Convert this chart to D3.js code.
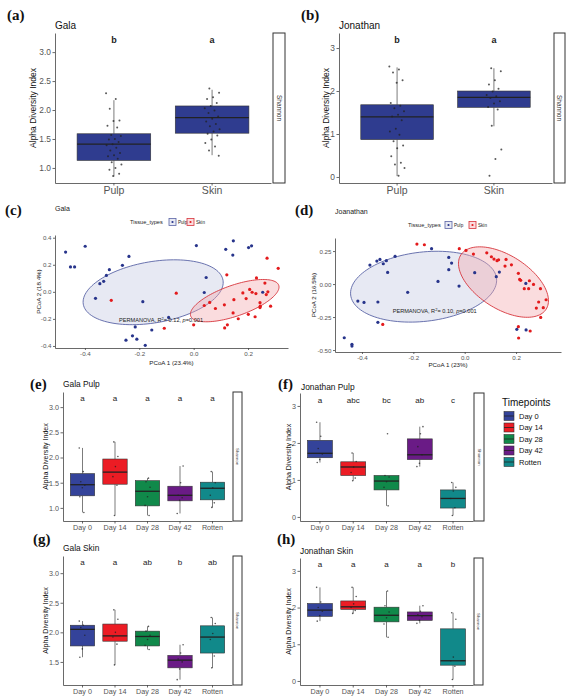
<!DOCTYPE html>
<html>
<head>
<meta charset="utf-8">
<script src="https://cdn.jsdelivr.net/npm/d3@7"></script>
<style>
  body { margin: 0; background: #fff; }
  svg { display: block; }
</style>
</head>
<body>
<svg id="fig" width="586" height="700"></svg>
<script>
// ---------- data ----------
const tissues = ["Pulp", "Skin"];
const timepoints = ["Day 0", "Day 14", "Day 28", "Day 42", "Rotten"];
const tissueColor = "#2f3c8f";
const timeColors = ["#34439a", "#ec1c24", "#10894a", "#6a1b86", "#11898a"];

// box stats: [lower whisker, Q1, median, Q3, upper whisker]
const galaTissueStats = [[0.85, 1.13, 1.41, 1.59, 2.17], [1.22, 1.60, 1.87, 2.07, 2.35]];
const jonTissueStats = [[0.02, 0.87, 1.40, 1.68, 2.55], [1.18, 1.62, 1.85, 2.00, 2.53]];
const galaTissuePts = [
  [2.29, 2.19, 2.02, 1.82, 1.81, 1.73, 1.70, 1.57, 1.55, 1.50, 1.49, 1.45, 1.41, 1.39, 1.35, 1.30, 1.26, 1.22, 1.20, 1.16, 1.10, 1.06, 1.00, 0.97, 0.90, 0.86],
  [2.37, 2.30, 2.22, 2.19, 2.12, 2.07, 2.03, 1.99, 1.95, 1.89, 1.85, 1.80, 1.76, 1.72, 1.67, 1.63, 1.59, 1.56, 1.49, 1.43, 1.37, 1.30, 1.21]
];
const jonTissuePts = [
  [2.57, 2.50, 2.43, 2.25, 2.19, 1.72, 1.66, 1.60, 1.53, 1.45, 1.41, 1.32, 1.12, 1.06, 0.98, 0.83, 0.73, 0.67, 0.48, 0.33, 0.29, 0.21, 0.03],
  [2.53, 2.46, 2.25, 2.15, 2.05, 1.99, 1.91, 1.88, 1.84, 1.76, 1.71, 1.63, 1.57, 1.19, 0.64, 0.42, 0.03]
];
const tissueLetters = ["b", "a"];

const galaPulpStats = [[0.91, 1.24, 1.46, 1.68, 2.19], [0.85, 1.47, 1.71, 1.97, 2.31], [0.85, 1.04, 1.33, 1.54, 1.59], [0.89, 1.14, 1.25, 1.43, 1.83], [1.01, 1.16, 1.39, 1.51, 1.72]];
const jonPulpStats = [[1.47, 1.60, 1.72, 2.07, 2.56], [0.98, 1.12, 1.35, 1.49, 1.73], [0.30, 0.73, 0.97, 1.12, 1.12], [1.36, 1.55, 1.68, 2.11, 2.44], [0.04, 0.24, 0.50, 0.73, 0.93]];
const galaSkinStats = [[1.58, 1.77, 2.05, 2.12, 2.19], [1.45, 1.85, 1.94, 2.14, 2.38], [1.71, 1.77, 1.93, 2.02, 2.10], [1.20, 1.40, 1.53, 1.61, 1.79], [1.40, 1.65, 1.92, 2.11, 2.25]];
const jonSkinStats = [[1.63, 1.76, 1.93, 2.11, 2.55], [1.84, 1.95, 2.02, 2.18, 2.55], [1.19, 1.61, 1.79, 2.01, 2.45], [1.57, 1.65, 1.78, 1.88, 2.05], [0.04, 0.43, 0.55, 1.42, 1.86]];

const galaPulpPts = [[2.19, 1.72, 1.52, 1.45, 1.40, 1.22, 0.91], [2.31, 2.02, 1.82, 1.62, 1.45, 0.85], [1.59, 1.52, 1.41, 1.22, 1.05, 0.85], [1.83, 1.50, 1.25, 1.20, 1.15, 0.89], [1.72, 1.50, 1.40, 1.25, 1.10, 1.01]];
const jonPulpPts = [[2.56, 2.18, 1.85, 1.70, 1.55, 1.47], [1.73, 1.50, 1.35, 1.20, 1.05, 0.98], [2.25, 1.12, 1.08, 0.95, 0.80, 0.30], [2.44, 2.25, 1.90, 1.68, 1.45, 1.36], [0.93, 0.80, 0.70, 0.50, 0.25, 0.04]];
const galaSkinPts = [[2.19, 2.12, 2.08, 1.95, 1.72, 1.58], [2.38, 2.22, 2.00, 1.92, 1.80, 1.45], [2.10, 2.02, 1.95, 1.88, 1.78, 1.71], [1.79, 1.65, 1.55, 1.50, 1.38, 1.20], [2.25, 2.15, 1.98, 1.88, 1.60, 1.40]];
const jonSkinPts = [[2.55, 2.15, 2.00, 1.90, 1.78, 1.63], [2.55, 2.30, 2.10, 2.00, 1.92, 1.84], [2.45, 2.05, 1.88, 1.72, 1.55, 1.19], [2.05, 1.90, 1.80, 1.75, 1.65, 1.57], [1.86, 1.68, 0.65, 0.55, 0.40, 0.04]];

const galaPulpLetters = ["a", "a", "a", "a", "a"];
const jonPulpLetters = ["a", "abc", "bc", "ab", "c"];
const galaSkinLetters = ["a", "a", "ab", "b", "ab"];
const jonSkinLetters = ["a", "a", "a", "a", "b"];

// PCoA scores [PCoA1, PCoA2]
const galaPcoaPulp = [[-0.471, 0.294], [-0.399, 0.337], [-0.453, 0.184], [-0.438, 0.184], [-0.238, 0.262], [-0.262, 0.196], [-0.310, 0.164], [-0.321, 0.121], [-0.331, 0.078], [-0.345, 0.060], [-0.361, -0.048], [-0.187, -0.073], [0.010, 0.342], [0.046, 0.106], [0.118, 0.314], [0.146, 0.377], [0.144, 0.272], [0.202, 0.327], [0.213, 0.340], [0.254, -0.003], [0.039, -0.005], [-0.092, -0.189], [-0.215, -0.259], [-0.154, -0.282], [-0.225, -0.325], [-0.249, -0.357], [-0.209, -0.350], [-0.178, -0.395]];
const galaPcoaSkin = [[-0.303, -0.063], [-0.064, -0.010], [-0.108, -0.269], [0.000, -0.244], [0.122, 0.126], [0.270, 0.249], [0.311, 0.174], [0.231, 0.103], [0.262, 0.065], [0.039, -0.101], [0.059, -0.078], [0.080, -0.123], [0.113, -0.096], [0.148, -0.058], [0.145, -0.156], [0.164, -0.199], [0.114, -0.267], [0.124, -0.244], [0.181, -0.008], [0.193, -0.050], [0.215, -0.003], [0.229, -0.013], [0.201, -0.166], [0.226, -0.184], [0.244, -0.080], [0.245, -0.106], [0.244, -0.116], [0.267, -0.020], [0.273, 0.000], [0.283, -0.106], [0.206, 0.018]];
const jonPcoaPulp = [[-0.469, -0.407], [-0.439, -0.457], [-0.439, -0.470], [-0.416, -0.129], [-0.392, -0.139], [-0.338, -0.136], [-0.369, 0.144], [-0.342, 0.174], [-0.330, 0.187], [-0.317, 0.154], [-0.305, 0.177], [-0.300, 0.088], [-0.271, 0.210], [-0.338, -0.290], [-0.222, -0.063], [-0.129, 0.268], [-0.104, 0.020], [-0.062, 0.202], [-0.051, 0.159], [-0.062, 0.109], [-0.022, -0.015], [0.039, 0.086], [0.123, 0.056], [0.135, 0.091], [0.238, 0.005], [0.203, -0.343], [0.239, -0.348]];
const jonPcoaSkin = [[-0.319, -0.306], [-0.186, 0.303], [-0.157, 0.298], [-0.021, 0.268], [0.005, 0.255], [0.034, 0.227], [0.086, 0.237], [0.104, 0.207], [0.114, 0.189], [0.126, 0.177], [0.132, 0.184], [0.161, 0.187], [0.157, 0.136], [0.182, 0.146], [0.209, 0.081], [0.214, 0.035], [0.218, 0.028], [0.232, -0.035], [0.249, -0.035], [0.252, 0.025], [0.268, -0.003], [0.295, -0.035], [0.317, -0.119], [0.306, -0.179], [0.288, -0.136], [0.279, -0.182], [0.296, -0.253], [0.209, -0.323], [0.210, -0.409], [0.255, -0.356]];
// 95% ellipses: centre and two conjugate semi-axis vectors (data units)
const galaEllipses = [
  { c: [-0.149, -0.003], a: [0.257, 0.088], b: [-0.018, 0.223] },
  { c: [0.151, -0.065], a: [0.162, 0.113], b: [-0.018, 0.108] }
];
const jonEllipses = [
  { c: [-0.160, -0.020], a: [0.284, 0.063], b: [-0.015, 0.261] },
  { c: [0.151, 0.015], a: [0.166, -0.206], b: [0.056, 0.170] }
];

// ---------- drawing ----------
const svg = d3.select("#fig");
const SANS = "'Liberation Sans', Arial, sans-serif";
const SERIF = "'Liberation Serif', 'Times New Roman', serif";

function styleAxis(g, fs) {
  g.select(".domain").attr("stroke", "#444").attr("stroke-width", 0.8);
  g.selectAll(".tick line").attr("stroke", "#444").attr("stroke-width", 0.8);
  g.selectAll(".tick text").attr("fill", "#555").style("font-family", SANS).style("font-size", fs + "px");
}

function jitter(i, amt) {
  return (((i * 0.6180339) % 1) - 0.5) * 2 * amt;
}

function boxPanel(cfg) {
  const g = svg.append("g");
  const x = d3.scaleBand().domain(cfg.cats).range([cfg.x0, cfg.x1]).paddingInner(0).paddingOuter(0.1);
  const y = d3.scaleLinear().domain(cfg.yDomain).range([cfg.y1, cfg.y0]);
  const bw = x.step() * 0.75;
  const cx = i => x(cfg.cats[i]) + x.bandwidth() / 2;
  const col = i => Array.isArray(cfg.colors) ? cfg.colors[i] : cfg.colors;

  // whiskers
  g.selectAll("line.wl").data(cfg.stats).join("line")
    .attr("x1", (d, i) => cx(i)).attr("x2", (d, i) => cx(i))
    .attr("y1", d => y(d[0])).attr("y2", d => y(d[1]))
    .attr("stroke", "#444").attr("stroke-width", 0.7);
  g.selectAll("line.wu").data(cfg.stats).join("line")
    .attr("x1", (d, i) => cx(i)).attr("x2", (d, i) => cx(i))
    .attr("y1", d => y(d[3])).attr("y2", d => y(d[4]))
    .attr("stroke", "#444").attr("stroke-width", 0.7);
  // boxes
  g.selectAll("rect.box").data(cfg.stats).join("rect")
    .attr("x", (d, i) => cx(i) - bw / 2).attr("width", bw)
    .attr("y", d => y(d[3])).attr("height", d => y(d[1]) - y(d[3]))
    .attr("fill", (d, i) => col(i)).attr("stroke", "#333").attr("stroke-width", 0.6);
  // medians
  g.selectAll("line.med").data(cfg.stats).join("line")
    .attr("x1", (d, i) => cx(i) - bw / 2).attr("x2", (d, i) => cx(i) + bw / 2)
    .attr("y1", d => y(d[2])).attr("y2", d => y(d[2]))
    .attr("stroke", "#222").attr("stroke-width", 1.3);
  // jittered points
  cfg.points.forEach((pts, i) => {
    g.selectAll(null).data(pts).join("circle")
      .attr("cx", (d, j) => cx(i) + jitter(j + i * 7, x.step() * cfg.jit))
      .attr("cy", d => y(d))
      .attr("r", cfg.pr).attr("fill", "#222").attr("fill-opacity", 0.75);
  });

  // axes
  const ya = g.append("g").attr("transform", `translate(${cfg.x0},0)`)
    .call(d3.axisLeft(y).tickValues(cfg.ticks).tickFormat(cfg.fmt).tickSize(2.5).tickSizeOuter(0).tickPadding(1.5));
  styleAxis(ya, cfg.tfs);
  const xa = g.append("g").attr("transform", `translate(0,${cfg.y1})`)
    .call(d3.axisBottom(x).tickSize(2.5).tickSizeOuter(0).tickPadding(1.5));
  styleAxis(xa, cfg.xfs);

  // significance letters
  g.selectAll("text.let").data(cfg.letters).join("text")
    .attr("x", (d, i) => cx(i)).attr("y", cfg.letY)
    .attr("text-anchor", "middle").attr("dominant-baseline", "central")
    .style("font-family", SANS).style("font-size", cfg.lfs + "px")
    .style("font-weight", cfg.lbold ? "bold" : "normal")
    .attr("fill", "#222").text(d => d);

  // strip
  g.append("rect").attr("x", cfg.sx0).attr("y", cfg.y0)
    .attr("width", cfg.sx1 - cfg.sx0).attr("height", cfg.y1 - cfg.y0)
    .attr("fill", "#fff").attr("stroke", "#333").attr("stroke-width", 1);
  g.append("text")
    .attr("transform", `translate(${(cfg.sx0 + cfg.sx1) / 2},${(cfg.y0 + cfg.y1) / 2}) rotate(90)`)
    .attr("text-anchor", "middle").attr("dominant-baseline", "central")
    .style("font-family", SANS).style("font-size", cfg.sfs + "px").attr("fill", "#333")
    .text("Shannon");

  // y title
  g.append("text")
    .attr("transform", `translate(${cfg.ytx},${(cfg.y0 + cfg.y1) / 2}) rotate(-90)`)
    .attr("text-anchor", "middle").attr("dominant-baseline", "central")
    .style("font-family", SANS).style("font-size", cfg.ytfs + "px").attr("fill", "#111")
    .text("Alpha Diversity Index");

  // title
  g.append("text").attr("x", cfg.tx).attr("y", cfg.ty).attr("dominant-baseline", "central")
    .style("font-family", SANS).style("font-size", cfg.tfsTitle + "px").attr("fill", "#111")
    .text(cfg.title);
}

function panelLabel(t, xx, yy) {
  svg.append("text").attr("x", xx).attr("y", yy).attr("dominant-baseline", "central")
    .style("font-family", SERIF).style("font-size", "15px").style("font-weight", "bold")
    .attr("fill", "#111").text(t);
}

function pcoaPanel(cfg) {
  const g = svg.append("g");
  const x = d3.scaleLinear().domain(cfg.xDomain).range([cfg.x0, cfg.x1]);
  const y = d3.scaleLinear().domain(cfg.yDomain).range([cfg.y1, cfg.y0]);
  const line = d3.line().x(d => x(d[0])).y(d => y(d[1])).curve(d3.curveLinearClosed);
  const tt = d3.range(0, 2 * Math.PI, Math.PI / 60);
  const fills = ["#c3c8e2", "#f3a7ac"];
  const strokes = ["#5a64a6", "#d7343b"];
  cfg.ellipses.forEach((e, k) => {
    const pts = tt.map(t => [
      e.c[0] + Math.cos(t) * e.a[0] + Math.sin(t) * e.b[0],
      e.c[1] + Math.cos(t) * e.a[1] + Math.sin(t) * e.b[1]
    ]);
    g.append("path").attr("d", line(pts))
      .attr("fill", fills[k]).attr("fill-opacity", 0.4)
      .attr("stroke", strokes[k]).attr("stroke-width", 0.9);
  });
  const ptCols = ["#27348b", "#e31a1c"];
  [cfg.pulp, cfg.skin].forEach((set, k) => {
    g.selectAll(null).data(set).join("circle")
      .attr("cx", d => x(d[0])).attr("cy", d => y(d[1]))
      .attr("r", 1.6).attr("fill", ptCols[k]);
  });

  const xa = g.append("g").attr("transform", `translate(0,${cfg.y1})`)
    .call(d3.axisBottom(x).tickValues(cfg.xTicks).tickFormat(d => d.toFixed(1)).tickSize(2).tickSizeOuter(0).tickPadding(1.5));
  styleAxis(xa, 6.2);
  const ya = g.append("g").attr("transform", `translate(${cfg.x0},0)`)
    .call(d3.axisLeft(y).tickValues(cfg.yTicks).tickFormat(d => d.toFixed(cfg.yDec)).tickSize(2).tickSizeOuter(0).tickPadding(1.5));
  styleAxis(ya, 6.2);

  g.append("text").attr("x", (cfg.x0 + cfg.x1) / 2).attr("y", cfg.xtY)
    .attr("text-anchor", "middle").attr("dominant-baseline", "central")
    .style("font-family", SANS).style("font-size", "6.2px").attr("fill", "#222").text(cfg.xTitle);
  g.append("text")
    .attr("transform", `translate(${cfg.ytX},${(cfg.y0 + cfg.y1) / 2}) rotate(-90)`)
    .attr("text-anchor", "middle").attr("dominant-baseline", "central")
    .style("font-family", SANS).style("font-size", "6.2px").attr("fill", "#222").text(cfg.yTitle);

  // PERMANOVA annotation
  const ann = g.append("text").attr("x", x(cfg.annAt[0])).attr("y", y(cfg.annAt[1]))
    .attr("text-anchor", "middle").attr("dominant-baseline", "central")
    .style("font-family", SANS).style("font-size", "5.6px").attr("fill", "#222");
  ann.append("tspan").text("PERMANOVA, R");
  ann.append("tspan").attr("dy", -2).style("font-size", "4px").text("2");
  ann.append("tspan").attr("dy", 2).text(`= ${cfg.r2}, `);
  ann.append("tspan").style("font-style", "italic").text("p");
  ann.append("tspan").text("=0.001");

  // legend
  const lg = g.append("g").attr("transform", `translate(${cfg.legX},${cfg.legY})`);
  lg.append("text").attr("x", 0).attr("y", 0).attr("dominant-baseline", "central")
    .style("font-family", SANS).style("font-size", "5.6px").attr("fill", "#222").text("Tissue_types");
  tissues.forEach((t, k) => {
    const lx = cfg.keyStart + k * cfg.keyStep;
    lg.append("rect").attr("x", lx).attr("y", -3.5).attr("width", 7).attr("height", 7)
      .attr("fill", fills[k]).attr("fill-opacity", 0.4).attr("stroke", strokes[k]).attr("stroke-width", 0.8);
    lg.append("circle").attr("cx", lx + 3.5).attr("cy", 0).attr("r", 1.1).attr("fill", ptCols[k]);
    lg.append("text").attr("x", lx + 9).attr("y", 0).attr("dominant-baseline", "central")
      .style("font-family", SANS).style("font-size", "4.6px").attr("fill", "#222").text(t);
  });

  g.append("text").attr("x", cfg.tx).attr("y", cfg.ty).attr("dominant-baseline", "central")
    .style("font-family", SANS).style("font-size", "7px").attr("fill", "#222").text(cfg.title);
}

// (a) and (b)
const topCommon = { cats: tissues, colors: tissueColor, y0: 33, y1: 183, jit: 0.08, pr: 1.0,
  tfs: 8.4, xfs: 10.5, lfs: 9, lbold: true, letY: 40, sfs: 6.5, ytfs: 8.5, tfsTitle: 10, ty: 25, letters: tissueLetters };
boxPanel(Object.assign({}, topCommon, {
  x0: 55, x1: 271, sx0: 273, sx1: 285, yDomain: [0.74, 3.33], ticks: [1, 1.5, 2, 2.5, 3], fmt: d => d.toFixed(1),
  stats: galaTissueStats, points: galaTissuePts, ytx: 33, tx: 55, title: "Gala" }));
boxPanel(Object.assign({}, topCommon, {
  x0: 339, x1: 552, sx0: 554, sx1: 565, yDomain: [-0.14, 3.35], ticks: [0, 1, 2, 3], fmt: d => d,
  stats: jonTissueStats, points: jonTissuePts, ytx: 326, tx: 339, title: "Jonathan" }));

// (c) and (d)
pcoaPanel({ x0: 55, x1: 288, y0: 235, y1: 348, xDomain: [-0.51, 0.347], yDomain: [-0.415, 0.42],
  xTicks: [-0.4, -0.2, 0, 0.2], yTicks: [-0.4, -0.2, 0, 0.2, 0.4], yDec: 1,
  pulp: galaPcoaPulp, skin: galaPcoaSkin, ellipses: galaEllipses,
  xTitle: "PCoA 1 (23.4%)", yTitle: "PCoA 2 (18.4%)", xtY: 362, ytX: 38,
  annAt: [-0.12, -0.205], r2: "0.12", legX: 130, legY: 222, keyStart: 39, keyStep: 18,
  tx: 55, ty: 208, title: "Gala" });
pcoaPanel({ x0: 335, x1: 561, y0: 238, y1: 352, xDomain: [-0.505, 0.375], yDomain: [-0.515, 0.349],
  xTicks: [-0.4, -0.2, 0, 0.2], yTicks: [-0.5, -0.25, 0, 0.25], yDec: 2,
  pulp: jonPcoaPulp, skin: jonPcoaSkin, ellipses: jonEllipses,
  xTitle: "PCoA 1 (23%)", yTitle: "PCoA 2 (16.5%)", xtY: 364, ytX: 313,
  annAt: [-0.117, -0.202], r2: "0.10", legX: 408, legY: 225, keyStart: 37, keyStep: 24,
  tx: 335, ty: 211, title: "Joanathan" });

// (e)-(h)
const timeCommon = { cats: timepoints, colors: timeColors, jit: 0.1, pr: 0.8,
  tfs: 7.2, xfs: 7.2, lfs: 8, lbold: false, sfs: 4.3, ytfs: 7.1, tfsTitle: 8.4 };
boxPanel(Object.assign({}, timeCommon, {
  x0: 63, x1: 232, y0: 392, y1: 521, sx0: 233, sx1: 242, yDomain: [0.74, 3.3], ticks: [1, 1.5, 2, 2.5, 3], fmt: d => d.toFixed(1),
  stats: galaPulpStats, points: galaPulpPts, letters: galaPulpLetters, letY: 398, ytx: 46, tx: 63, ty: 384, title: "Gala Pulp" }));
boxPanel(Object.assign({}, timeCommon, {
  x0: 300, x1: 473, y0: 393, y1: 521, sx0: 474, sx1: 484, yDomain: [-0.11, 3.35], ticks: [0, 1, 2, 3], fmt: d => d,
  stats: jonPulpStats, points: jonPulpPts, letters: jonPulpLetters, letY: 400, ytx: 289, tx: 301, ty: 387, title: "Jonathan Pulp" }));
boxPanel(Object.assign({}, timeCommon, {
  x0: 63, x1: 232, y0: 556, y1: 685, sx0: 233, sx1: 242, yDomain: [1.11, 3.29], ticks: [1.5, 2, 2.5, 3], fmt: d => d.toFixed(1),
  stats: galaSkinStats, points: galaSkinPts, letters: galaSkinLetters, letY: 562, ytx: 46, tx: 63, ty: 548, title: "Gala Skin" }));
boxPanel(Object.assign({}, timeCommon, {
  x0: 300, x1: 473, y0: 558, y1: 685, sx0: 474, sx1: 483, yDomain: [-0.11, 3.35], ticks: [0, 1, 2, 3], fmt: d => d,
  stats: jonSkinStats, points: jonSkinPts, letters: jonSkinLetters, letY: 564, ytx: 289, tx: 300, ty: 551, title: "Jonathan Skin" }));

// Timepoints legend
const tl = svg.append("g").attr("transform", "translate(502,402)");
tl.append("text").attr("x", 0).attr("y", 0).attr("dominant-baseline", "central")
  .style("font-family", SANS).style("font-size", "10px").attr("fill", "#111").text("Timepoints");
tl.selectAll("g.key").data(timepoints).join("g")
  .attr("transform", (d, i) => `translate(2,${14 + i * 11.5})`)
  .each(function (d, i) {
    const k = d3.select(this);
    k.append("rect").attr("x", 0).attr("y", -4.5).attr("width", 10).attr("height", 9)
      .attr("fill", timeColors[i]).attr("stroke", "#333").attr("stroke-width", 0.6);
    k.append("line").attr("x1", 0).attr("x2", 10).attr("y1", 0).attr("y2", 0).attr("stroke", "#222").attr("stroke-width", 0.8);
    k.append("text").attr("x", 15).attr("y", 0).attr("dominant-baseline", "central")
      .style("font-family", SANS).style("font-size", "7.5px").attr("fill", "#111").text(d);
  });

// panel labels
panelLabel("(a)", 7, 15);
panelLabel("(b)", 301, 15);
panelLabel("(c)", 5, 210);
panelLabel("(d)", 295, 210);
panelLabel("(e)", 30, 384);
panelLabel("(f)", 278, 384);
panelLabel("(g)", 33, 539);
panelLabel("(h)", 277, 539);
</script>
</body>
</html>
